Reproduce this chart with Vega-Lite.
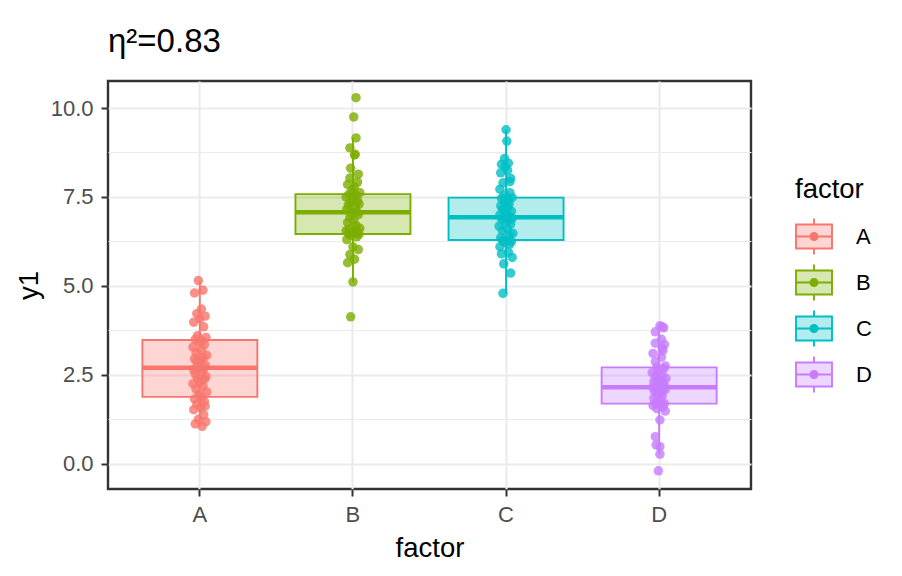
{
  "$schema": "https://vega.github.io/schema/vega-lite/v6.json",
  "width": 643,
  "height": 408,
  "autosize": {"type": "none"},
  "padding": {"left": 108, "top": 81, "right": 151, "bottom": 87},
  "background": "white",
  "title": {"text": "η²=0.83", "anchor": "start", "frame": "group", "fontSize": 33, "fontWeight": "normal", "color": "black", "font": "Liberation Sans", "baseline": "alphabetic", "offset": 31, "dy": 35},
  "config": {
    "font": "Liberation Sans",
    "view": {"stroke": "#333333", "strokeWidth": 2.4}
  },
  "datasets": {
    "boxes": [
      {"factor": "A", "lower": 1.05, "q1": 1.88, "median": 2.70, "q3": 3.48, "upper": 5.15},
      {"factor": "B", "lower": 5.11, "q1": 6.46, "median": 7.07, "q3": 7.58, "upper": 9.16},
      {"factor": "C", "lower": 4.79, "q1": 6.29, "median": 6.93, "q3": 7.48, "upper": 9.39},
      {"factor": "D", "lower": 0.27, "q1": 1.69, "median": 2.15, "q3": 2.71, "upper": 3.88}
    ],
    "points": [
      {"factor":"A","y1":1.05,"jitter":0.03},{"factor":"A","y1":1.12,"jitter":-0.06},{"factor":"A","y1":1.18,"jitter":0.08},{"factor":"A","y1":1.25,"jitter":-0.02},{"factor":"A","y1":1.38,"jitter":0.05},
      {"factor":"A","y1":1.52,"jitter":-0.08},{"factor":"A","y1":1.58,"jitter":0.01},{"factor":"A","y1":1.62,"jitter":0.07},{"factor":"A","y1":1.68,"jitter":-0.04},{"factor":"A","y1":1.75,"jitter":0.06},
      {"factor":"A","y1":1.82,"jitter":-0.07},{"factor":"A","y1":1.86,"jitter":0.02},{"factor":"A","y1":1.95,"jitter":-0.01},{"factor":"A","y1":2.02,"jitter":0.09},{"factor":"A","y1":2.10,"jitter":-0.05},
      {"factor":"A","y1":2.18,"jitter":0.04},{"factor":"A","y1":2.25,"jitter":-0.09},{"factor":"A","y1":2.30,"jitter":0.00},{"factor":"A","y1":2.38,"jitter":0.06},{"factor":"A","y1":2.40,"jitter":-0.03},
      {"factor":"A","y1":2.45,"jitter":0.08},{"factor":"A","y1":2.52,"jitter":-0.06},{"factor":"A","y1":2.58,"jitter":0.03},{"factor":"A","y1":2.64,"jitter":-0.08},{"factor":"A","y1":2.68,"jitter":0.05},
      {"factor":"A","y1":2.72,"jitter":-0.02},{"factor":"A","y1":2.78,"jitter":0.07},{"factor":"A","y1":2.85,"jitter":-0.04},{"factor":"A","y1":2.92,"jitter":0.01},{"factor":"A","y1":2.95,"jitter":-0.07},
      {"factor":"A","y1":2.98,"jitter":0.04},{"factor":"A","y1":3.05,"jitter":0.09},{"factor":"A","y1":3.12,"jitter":-0.05},{"factor":"A","y1":3.20,"jitter":0.02},{"factor":"A","y1":3.28,"jitter":-0.09},
      {"factor":"A","y1":3.35,"jitter":0.06},{"factor":"A","y1":3.42,"jitter":-0.01},{"factor":"A","y1":3.46,"jitter":0.03},{"factor":"A","y1":3.50,"jitter":-0.06},{"factor":"A","y1":3.55,"jitter":0.08},
      {"factor":"A","y1":3.60,"jitter":-0.03},{"factor":"A","y1":3.85,"jitter":0.05},{"factor":"A","y1":3.98,"jitter":-0.08},{"factor":"A","y1":4.08,"jitter":0.00},{"factor":"A","y1":4.15,"jitter":0.07},
      {"factor":"A","y1":4.22,"jitter":-0.04},{"factor":"A","y1":4.35,"jitter":0.02},{"factor":"A","y1":4.80,"jitter":-0.07},{"factor":"A","y1":4.88,"jitter":0.04},{"factor":"A","y1":5.15,"jitter":-0.02},

      {"factor":"B","y1":4.13,"jitter":-0.03},{"factor":"B","y1":5.11,"jitter":0.00},{"factor":"B","y1":5.65,"jitter":-0.07},{"factor":"B","y1":5.75,"jitter":0.02},{"factor":"B","y1":5.88,"jitter":-0.04},
      {"factor":"B","y1":6.02,"jitter":0.07},{"factor":"B","y1":6.10,"jitter":0.00},{"factor":"B","y1":6.30,"jitter":-0.08},{"factor":"B","y1":6.38,"jitter":0.05},{"factor":"B","y1":6.42,"jitter":-0.03},
      {"factor":"B","y1":6.45,"jitter":0.08},{"factor":"B","y1":6.47,"jitter":-0.06},{"factor":"B","y1":6.48,"jitter":0.03},{"factor":"B","y1":6.50,"jitter":-0.01},{"factor":"B","y1":6.52,"jitter":0.06},
      {"factor":"B","y1":6.55,"jitter":-0.09},{"factor":"B","y1":6.58,"jitter":0.02},{"factor":"B","y1":6.60,"jitter":-0.05},{"factor":"B","y1":6.62,"jitter":0.09},{"factor":"B","y1":6.70,"jitter":0.04},
      {"factor":"B","y1":6.78,"jitter":-0.07},{"factor":"B","y1":6.85,"jitter":0.01},{"factor":"B","y1":6.92,"jitter":-0.04},{"factor":"B","y1":7.00,"jitter":0.07},{"factor":"B","y1":7.05,"jitter":-0.02},
      {"factor":"B","y1":7.08,"jitter":0.05},{"factor":"B","y1":7.15,"jitter":-0.08},{"factor":"B","y1":7.22,"jitter":0.03},{"factor":"B","y1":7.28,"jitter":-0.06},{"factor":"B","y1":7.30,"jitter":0.08},
      {"factor":"B","y1":7.35,"jitter":-0.03},{"factor":"B","y1":7.40,"jitter":0.06},{"factor":"B","y1":7.45,"jitter":0.00},{"factor":"B","y1":7.50,"jitter":-0.09},{"factor":"B","y1":7.55,"jitter":0.04},
      {"factor":"B","y1":7.58,"jitter":-0.05},{"factor":"B","y1":7.62,"jitter":0.09},{"factor":"B","y1":7.70,"jitter":-0.01},{"factor":"B","y1":7.78,"jitter":0.02},{"factor":"B","y1":7.85,"jitter":-0.07},
      {"factor":"B","y1":7.92,"jitter":0.06},{"factor":"B","y1":8.03,"jitter":-0.04},{"factor":"B","y1":8.14,"jitter":0.07},{"factor":"B","y1":8.31,"jitter":-0.03},{"factor":"B","y1":8.68,"jitter":0.02},
      {"factor":"B","y1":8.70,"jitter":0.03},{"factor":"B","y1":8.88,"jitter":-0.04},{"factor":"B","y1":9.16,"jitter":0.04},{"factor":"B","y1":9.75,"jitter":0.01},{"factor":"B","y1":10.29,"jitter":0.04},

      {"factor":"C","y1":4.79,"jitter":-0.04},{"factor":"C","y1":5.36,"jitter":0.06},{"factor":"C","y1":5.62,"jitter":-0.03},{"factor":"C","y1":5.80,"jitter":0.08},{"factor":"C","y1":5.90,"jitter":-0.06},
      {"factor":"C","y1":5.95,"jitter":0.03},{"factor":"C","y1":6.10,"jitter":-0.08},{"factor":"C","y1":6.18,"jitter":0.05},{"factor":"C","y1":6.22,"jitter":-0.02},{"factor":"C","y1":6.25,"jitter":0.07},
      {"factor":"C","y1":6.27,"jitter":-0.04},{"factor":"C","y1":6.29,"jitter":0.01},{"factor":"C","y1":6.35,"jitter":-0.07},{"factor":"C","y1":6.42,"jitter":0.04},{"factor":"C","y1":6.48,"jitter":0.09},
      {"factor":"C","y1":6.55,"jitter":-0.05},{"factor":"C","y1":6.60,"jitter":0.02},{"factor":"C","y1":6.68,"jitter":-0.09},{"factor":"C","y1":6.74,"jitter":0.06},{"factor":"C","y1":6.80,"jitter":-0.01},
      {"factor":"C","y1":6.85,"jitter":0.03},{"factor":"C","y1":6.88,"jitter":-0.06},{"factor":"C","y1":6.90,"jitter":0.08},{"factor":"C","y1":6.92,"jitter":-0.03},{"factor":"C","y1":6.95,"jitter":0.05},
      {"factor":"C","y1":7.00,"jitter":-0.08},{"factor":"C","y1":7.05,"jitter":0.00},{"factor":"C","y1":7.10,"jitter":0.07},{"factor":"C","y1":7.15,"jitter":-0.04},{"factor":"C","y1":7.20,"jitter":0.02},
      {"factor":"C","y1":7.25,"jitter":-0.07},{"factor":"C","y1":7.30,"jitter":0.04},{"factor":"C","y1":7.38,"jitter":-0.02},{"factor":"C","y1":7.42,"jitter":0.03},{"factor":"C","y1":7.46,"jitter":-0.06},
      {"factor":"C","y1":7.48,"jitter":0.08},{"factor":"C","y1":7.55,"jitter":-0.02},{"factor":"C","y1":7.62,"jitter":0.05},{"factor":"C","y1":7.72,"jitter":-0.08},{"factor":"C","y1":7.90,"jitter":-0.04},
      {"factor":"C","y1":7.93,"jitter":0.05},{"factor":"C","y1":8.02,"jitter":0.06},{"factor":"C","y1":8.18,"jitter":-0.07},{"factor":"C","y1":8.25,"jitter":0.02},{"factor":"C","y1":8.35,"jitter":-0.01},
      {"factor":"C","y1":8.42,"jitter":-0.06},{"factor":"C","y1":8.45,"jitter":0.03},{"factor":"C","y1":8.58,"jitter":-0.02},{"factor":"C","y1":9.07,"jitter":0.01},{"factor":"C","y1":9.39,"jitter":0.00},

      {"factor":"D","y1":-0.20,"jitter":-0.01},{"factor":"D","y1":0.27,"jitter":0.01},{"factor":"D","y1":0.48,"jitter":0.01},{"factor":"D","y1":0.53,"jitter":-0.04},{"factor":"D","y1":0.76,"jitter":-0.05},
      {"factor":"D","y1":1.23,"jitter":0.01},{"factor":"D","y1":1.48,"jitter":0.08},{"factor":"D","y1":1.55,"jitter":-0.03},{"factor":"D","y1":1.60,"jitter":0.05},{"factor":"D","y1":1.64,"jitter":-0.08},
      {"factor":"D","y1":1.67,"jitter":0.00},{"factor":"D","y1":1.69,"jitter":0.07},{"factor":"D","y1":1.72,"jitter":-0.04},{"factor":"D","y1":1.78,"jitter":0.02},{"factor":"D","y1":1.84,"jitter":-0.07},
      {"factor":"D","y1":1.90,"jitter":0.04},{"factor":"D","y1":1.95,"jitter":-0.02},{"factor":"D","y1":2.00,"jitter":0.03},{"factor":"D","y1":2.04,"jitter":-0.06},{"factor":"D","y1":2.08,"jitter":0.08},
      {"factor":"D","y1":2.10,"jitter":-0.02},{"factor":"D","y1":2.12,"jitter":0.05},{"factor":"D","y1":2.14,"jitter":-0.08},{"factor":"D","y1":2.15,"jitter":0.01},{"factor":"D","y1":2.18,"jitter":0.07},
      {"factor":"D","y1":2.22,"jitter":-0.04},{"factor":"D","y1":2.26,"jitter":0.06},{"factor":"D","y1":2.30,"jitter":-0.07},{"factor":"D","y1":2.35,"jitter":0.02},{"factor":"D","y1":2.38,"jitter":-0.01},
      {"factor":"D","y1":2.40,"jitter":0.09},{"factor":"D","y1":2.45,"jitter":-0.05},{"factor":"D","y1":2.50,"jitter":0.04},{"factor":"D","y1":2.56,"jitter":-0.09},{"factor":"D","y1":2.62,"jitter":0.00},
      {"factor":"D","y1":2.68,"jitter":0.06},{"factor":"D","y1":2.71,"jitter":-0.03},{"factor":"D","y1":2.75,"jitter":0.08},{"factor":"D","y1":2.87,"jitter":-0.05},{"factor":"D","y1":3.00,"jitter":0.03},
      {"factor":"D","y1":3.10,"jitter":-0.08},{"factor":"D","y1":3.18,"jitter":0.05},{"factor":"D","y1":3.25,"jitter":0.04},{"factor":"D","y1":3.35,"jitter":0.07},{"factor":"D","y1":3.39,"jitter":-0.05},
      {"factor":"D","y1":3.50,"jitter":0.03},{"factor":"D","y1":3.71,"jitter":-0.05},{"factor":"D","y1":3.82,"jitter":0.06},{"factor":"D","y1":3.85,"jitter":0.04},{"factor":"D","y1":3.88,"jitter":0.01}
    ]
  },
  "resolve": {"axis": {"y": "independent"}},
  "layer": [
    {
      "data": {"name": "boxes"},
      "mark": {"type": "rule", "strokeWidth": 1.9},
      "encoding": {
        "x": {"field": "factor", "type": "nominal",
              "scale": {"type": "band", "domain": ["A","B","C","D"], "paddingInner": 0, "paddingOuter": 0.1},
              "axis": {"title": "factor", "labelAngle": 0, "grid": true, "bandPosition": 0.5, "gridColor": "#EBEBEB", "gridWidth": 2.1, "domain": false, "ticks": true, "tickSize": 7, "tickWidth": 2, "tickColor": "#333333", "labelPadding": 25, "labelBaseline": "alphabetic", "labelFontSize": 22, "labelColor": "#4D4D4D", "labelFont": "Liberation Sans", "titleFont": "Liberation Sans", "titleFontSize": 27.5, "titleFontWeight": "normal", "titleColor": "black", "titleY": 67, "titleBaseline": "alphabetic"}},
        "y": {"field": "q3", "type": "quantitative",
              "scale": {"domain": [-0.71, 10.76], "nice": false, "zero": false},
              "axis": {"orient": "right", "title": null, "values": [1.25, 3.75, 6.25, 8.75], "grid": true, "gridColor": "#EBEBEB", "gridWidth": 1.1, "labels": false, "ticks": false, "domain": false}},
        "y2": {"field": "upper"},
        "color": {"field": "factor", "type": "nominal",
                  "scale": {"domain": ["A","B","C","D"], "range": ["#F8766D","#7CAE00","#00BFC4","#C77CFF"]},
                  "legend": {"title": "factor", "orient": "none", "legendX": 687, "legendY": 95, "padding": 0,
                             "symbolType": "M-1,-0.67H1V0.67H-1Z M-1,0H1 M0,-0.67V-1 M0,0.67V1 M-0.2,0A0.2,0.2 0 1,0 0.2,0A0.2,0.2 0 1,0 -0.2,0Z M-0.12,0A0.12,0.12 0 1,0 0.12,0A0.12,0.12 0 1,0 -0.12,0Z M-0.04,0A0.04,0.04 0 1,0 0.04,0A0.04,0.04 0 1,0 -0.04,0Z",
                             "symbolSize": 1296, "symbolStrokeWidth": 1.9, "rowPadding": 2, "labelOffset": 23, "titlePadding": 14,
                             "labelFontSize": 22, "labelColor": "black", "labelFont": "Liberation Sans",
                             "titleFontSize": 27.5, "titleFontWeight": "normal", "titleColor": "black", "titleFont": "Liberation Sans",
                             "encode": {"symbols": {"update": {"fill": {"scale": "color", "field": "value"}, "fillOpacity": {"value": 0.3}, "stroke": {"scale": "color", "field": "value"}, "strokeWidth": {"value": 1.9}, "opacity": {"value": 1}}}}}}
      }
    },
    {
      "layer": [
        {
          "data": {"name": "boxes"},
          "mark": {"type": "rule", "strokeWidth": 1.9},
          "encoding": {
            "x": {"field": "factor", "type": "nominal"},
            "y": {"field": "lower", "type": "quantitative",
                  "axis": {"orient": "left", "title": "y1", "values": [0, 2.5, 5, 7.5, 10], "format": ".1f", "grid": true, "gridColor": "#EBEBEB", "gridWidth": 2.1, "domain": false, "ticks": true, "tickSize": 7, "tickWidth": 2, "tickColor": "#333333", "labelPadding": 8, "labelFontSize": 22, "labelColor": "#4D4D4D", "labelFont": "Liberation Sans", "titleFont": "Liberation Sans", "titleFontSize": 27.5, "titleFontWeight": "normal", "titleColor": "black", "titleX": -71, "titleBaseline": "alphabetic"}},
            "y2": {"field": "q1"},
            "color": {"field": "factor", "type": "nominal"}
          }
        },
        {
          "data": {"name": "boxes"},
          "mark": {"type": "bar", "size": 115, "fillOpacity": 0.3, "strokeWidth": 1.9},
          "encoding": {
            "x": {"field": "factor", "type": "nominal"},
            "y": {"field": "q1", "type": "quantitative"},
            "y2": {"field": "q3"},
            "color": {"field": "factor", "type": "nominal"},
            "stroke": {"field": "factor", "type": "nominal", "scale": {"domain": ["A","B","C","D"], "range": ["#F8766D","#7CAE00","#00BFC4","#C77CFF"]}, "legend": null}
          }
        },
        {
          "data": {"name": "boxes"},
          "mark": {"type": "bar", "filled": false, "size": 115, "strokeWidth": 4.5},
          "encoding": {
            "x": {"field": "factor", "type": "nominal"},
            "y": {"field": "median", "type": "quantitative"},
            "y2": {"field": "median"},
            "color": {"field": "factor", "type": "nominal"}
          }
        },
        {
          "data": {"name": "points"},
          "mark": {"type": "circle", "size": 90, "opacity": 0.8},
          "encoding": {
            "x": {"field": "factor", "type": "nominal"},
            "xOffset": {"field": "jitter", "type": "quantitative", "scale": {"domain": [-1, 1]}},
            "y": {"field": "y1", "type": "quantitative"},
            "fill": {"field": "factor", "type": "nominal", "scale": {"domain": ["A","B","C","D"], "range": ["#F8766D","#7CAE00","#00BFC4","#C77CFF"]}, "legend": null}
          }
        }
      ]
    }
  ]
}
